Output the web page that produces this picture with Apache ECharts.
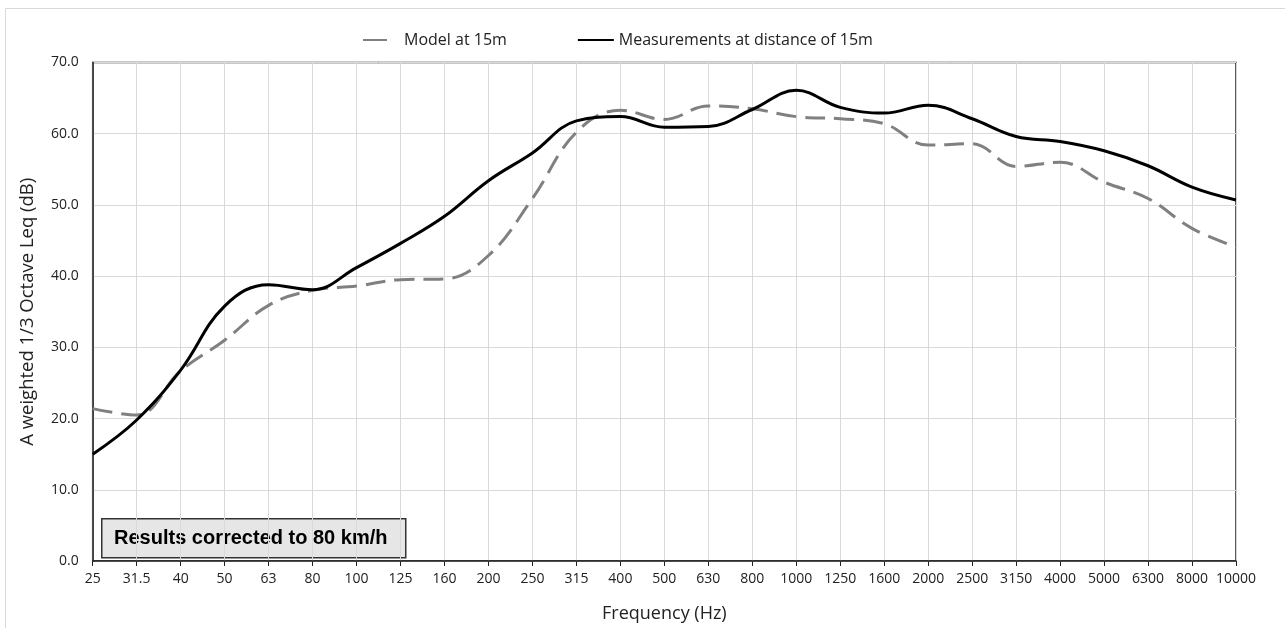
<!DOCTYPE html>
<html>
<head>
<meta charset="utf-8">
<script src="https://cdn.jsdelivr.net/npm/echarts@6/dist/echarts.min.js"></script>
<style>
html,body{margin:0;padding:0;background:#fff;}
#chart{width:1285px;height:628px;}
</style>
</head>
<body>
<div id="chart"></div>
<script>
const categories = ['25','31.5','40','50','63','80','100','125','160','200','250','315','400','500','630','800','1000','1250','1600','2000','2500','3150','4000','5000','6300','8000','10000'];
const modelValues = [21.4,20.5,26.7,31.0,35.9,38.0,38.6,39.5,39.6,42.9,50.9,60.2,63.3,62.0,63.9,63.5,62.4,62.1,61.4,58.4,58.6,55.4,56.0,53.2,50.9,46.7,44.1];
const measuredValues = [15.0,19.8,26.8,35.8,38.8,38.1,41.2,44.6,48.4,53.4,57.3,61.8,62.4,60.9,61.0,63.4,66.1,63.7,62.9,64.0,62.1,59.6,58.9,57.6,55.5,52.5,50.7];
const seriesNames = ['Model at 15m','Measurements at distance of 15m'];
const yTicks = {min:0, max:70, interval:10};

const chart = echarts.init(document.getElementById('chart'), null, {renderer:'canvas'});
const font = '"Open Sans", "Noto Sans", sans-serif';
chart.setOption({
  animation:false,
  backgroundColor:'#fff',
  textStyle:{fontFamily:font},
  legend:{
    show:true, orient:'horizontal',
    top:27, left:357, width:900,
    itemWidth:36, itemHeight:14, itemGap:70,
    itemStyle:{opacity:0},
    textStyle:{fontSize:16, color:'#222', fontFamily:font},
    data:[
      {name:seriesNames[0], lineStyle:{type:[24,14]}},
      {name:seriesNames[1]}
    ]
  },
  grid:{left:92.7, right:49, top:62.5, bottom:64.7, show:true, borderColor:'#222', borderWidth:1.5},
  xAxis:{
    type:'category', data:categories, boundaryGap:false,
    name:'Frequency (Hz)', nameLocation:'middle', nameGap:44,
    nameTextStyle:{fontSize:18, color:'#222', fontFamily:font},
    axisLine:{lineStyle:{color:'#222', width:1.5}},
    axisTick:{show:true, length:5, lineStyle:{color:'#222'}},
    axisLabel:{fontSize:14, color:'#222', margin:11, interval:0, fontFamily:font},
    splitLine:{show:true, lineStyle:{color:'#d9d9d9', width:1}}
  },
  yAxis:{
    type:'value', min:yTicks.min, max:yTicks.max, interval:yTicks.interval,
    name:'A weighted 1/3 Octave Leq (dB)', nameLocation:'middle', nameGap:55, nameRotate:90,
    nameTextStyle:{fontSize:18.5, color:'#222', fontFamily:font},
    axisLine:{show:true, lineStyle:{color:'#222', width:1.5}},
    axisTick:{show:false},
    axisLabel:{fontSize:14, color:'#222', margin:14, formatter:v=>v.toFixed(1), fontFamily:font},
    splitLine:{show:true, lineStyle:{color:'#d9d9d9', width:1}}
  },
  series:[
    {name:seriesNames[0], type:'line', data:modelValues, smooth:0.4, showSymbol:false, symbol:'none',
     lineStyle:{color:'#808080', width:3, type:[20,9], cap:'butt'}, itemStyle:{color:'#808080'}, z:2},
    {name:seriesNames[1], type:'line', data:measuredValues, smooth:0.4, showSymbol:false, symbol:'none',
     lineStyle:{color:'#000', width:3}, itemStyle:{color:'#000'}, z:3}
  ],
  graphic:[
    {type:'rect', shape:{x:5.5, y:8.5, width:1300, height:700}, style:{fill:'none', stroke:'#d9d9d9', lineWidth:1}, silent:true},
    {type:'group', left:101, top:518, children:[
      {type:'rect', shape:{x:0, y:0, width:304, height:39}, style:{fill:'#e6e6e6', stroke:'#333', lineWidth:1.5}},
      {type:'text', x:149, y:20, style:{text:'Results corrected to 80 km/h', fontSize:20, fontWeight:'bold', fontFamily:'"Liberation Sans", Arial, sans-serif', fill:'#000', align:'center', verticalAlign:'middle'}}
    ]}
  ]
});
</script>
</body>
</html>
